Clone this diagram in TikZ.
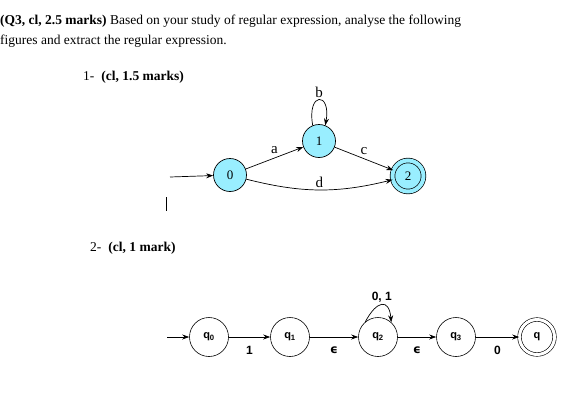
\documentclass[tikz,border=0pt]{standalone}
\usepackage{fontspec}
\setmainfont{Liberation Serif}
\newfontfamily\statefont{Liberation Sans}
\newfontfamily\epsfont{DejaVu Sans}
\newcommand{\epsmark}{{\epsfont\bfseries\symbol{"03F5}}}
\usetikzlibrary{arrows.meta}
\definecolor{statecyan}{RGB}{153,238,255}
\begin{document}
\begin{tikzpicture}[x=1pt, y=1pt,
    every node/.style={inner sep=0pt},
    cstate/.style={circle, draw, line width=0.7pt, fill=statecyan, minimum size=33pt, font=\fontsize{13}{13}\selectfont},
    qstate/.style={circle, draw, line width=0.6pt, minimum size=39pt, font=\statefont\bfseries\fontsize{11}{11}\selectfont},
    trans/.style={-{Stealth[length=7pt,width=5pt]}, line width=0.7pt},
    clabel/.style={font=\fontsize{15}{15}\selectfont},
    qlabel/.style={font=\statefont\bfseries\fontsize{12}{12}\selectfont}]
  \useasboundingbox (0,0) rectangle (580,-410);

  % Question text
  \node[anchor=base west] (title1) at (0,-24) {\fontsize{13.5}{16}\selectfont\textbf{(Q3, cl, 2.5 marks)} Based on your study of regular expression, analyse the following};
  \node[anchor=base west] (title2) at (0,-44) {\fontsize{13.5}{16}\selectfont figures and extract the regular expression.};
  \node[anchor=base west] (part1) at (83,-80) {\fontsize{13.5}{16}\selectfont 1-\hspace{7pt}\textbf{(cl, 1.5 marks)}};
  \node[anchor=base west] (part2) at (90,-251) {\fontsize{13.5}{16}\selectfont 2-\hspace{7pt}\textbf{(cl, 1 mark)}};

  % Figure 1
  \node[cstate] (s0) at (230,-175) {0};
  \node[cstate] (s1) at (319,-141) {1};
  \node[cstate, minimum size=31pt, double=statecyan, double distance=4pt] (s2) at (408,-176) {2};
  \coordinate (start1) at (170,-177);
  \draw[trans] (start1) -- (s0);
  \draw[trans] (s0) -- node[clabel, midway, above=4pt] {a} (s1);
  \draw[trans] (s1) -- node[clabel, midway, above=4pt] {c} (s2);
  \draw[trans] (s0) to[bend right=14] node[clabel, midway, above=2pt] {d} (s2);
  \draw[trans] (s1.112) to[out=100, in=80, looseness=7] node[clabel, midway, above=2pt] {b} (s1.68);

  % cursor mark
  \coordinate (cur1) at (166,-197);
  \coordinate (cur2) at (166,-211);
  \draw[line width=0.6pt] (cur1) -- (cur2);

  % Figure 2
  \node[qstate] (q0) at (209,-337) {q\textsubscript{0}};
  \node[qstate] (q1) at (290,-337) {q\textsubscript{1}};
  \node[qstate] (q2) at (378,-337) {q\textsubscript{2}};
  \node[qstate] (q3) at (456,-337) {q\textsubscript{3}};
  \node[qstate, minimum size=35pt, double, double distance=3pt] (qf) at (537,-337) {q};
  \coordinate (start2) at (167,-337);
  \draw[trans] (start2) -- (q0);
  \draw[trans] (q0) -- node[qlabel, midway, below=9pt] {1} (q1);
  \draw[trans] (q1) -- node[qlabel, midway, below=9pt] {\epsmark} (q2);
  \draw[trans] (q2) -- node[qlabel, midway, below=9pt] {\epsmark} (q3);
  \draw[trans] (q3) -- node[qlabel, midway, below=9pt] {0} (qf);
  \draw[trans] (q2.130) to[out=62, in=95, looseness=2.4] node[qlabel, midway, above=2pt] {0, 1} (q2.48);
\end{tikzpicture}
\end{document}
